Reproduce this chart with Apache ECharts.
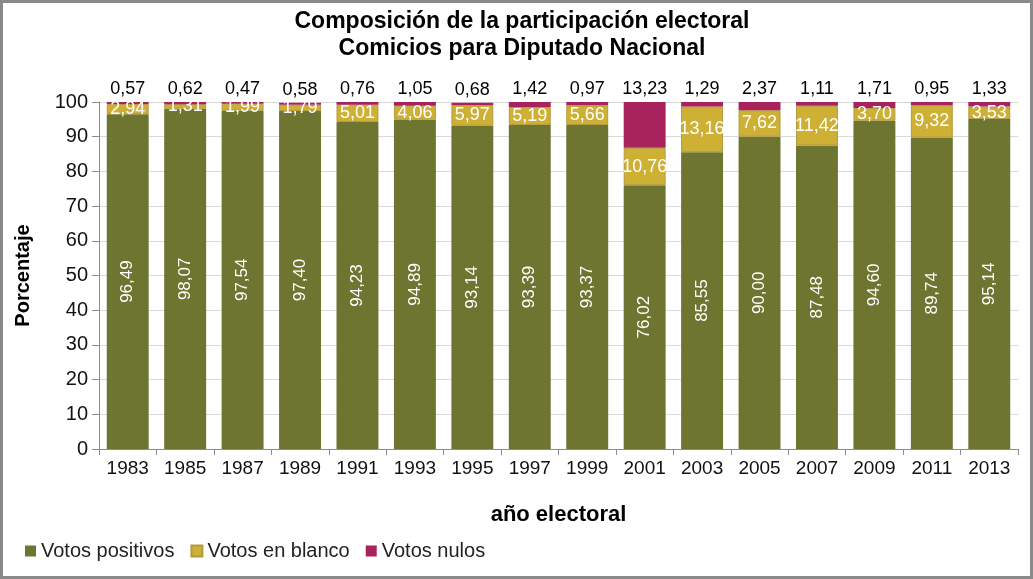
<!DOCTYPE html>
<html>
<head>
<meta charset="utf-8">
<script src="https://cdn.jsdelivr.net/npm/echarts@6/dist/echarts.min.js"></script>
<style>
html,body{margin:0;padding:0;background:#fff;}
#chart{width:1033px;height:579px;}
</style>
</head>
<body>
<div id="chart"></div>
<script>
// datos: composición de la participación electoral
var anios = ['1983','1985','1987','1989','1991','1993','1995','1997','1999','2001','2003','2005','2007','2009','2011','2013'];
var positivos = [96.49, 98.07, 97.54, 97.40, 94.23, 94.89, 93.14, 93.39, 93.37, 76.02, 85.55, 90.00, 87.48, 94.60, 89.74, 95.14];
var blanco = [2.94, 1.31, 1.99, 1.79, 5.01, 4.06, 5.97, 5.19, 5.66, 10.76, 13.16, 7.62, 11.42, 3.70, 9.32, 3.53];
var nulos = [0.57, 0.62, 0.47, 0.58, 0.76, 1.05, 0.68, 1.42, 0.97, 13.23, 1.29, 2.37, 1.11, 1.71, 0.95, 1.33];

var fuente = 'Liberation Sans, Arial, sans-serif';

function coma(p) {
    return p.value.toFixed(2).replace('.', ',');
}

var myChart = echarts.init(document.getElementById('chart'));
var option = {
    animation: false,
    color: ['#6e7531', '#cdb034', '#a8225c'],
    textStyle: { fontFamily: fuente },
    title: {
        text: 'Composición de la participación electoral\nComicios para Diputado Nacional',
        left: 517,
        textAlign: 'center',
        top: 3,
        textStyle: { fontSize: 23, fontWeight: 'bold', color: '#000', lineHeight: 27, fontFamily: fuente }
    },
    legend: {
        left: 20,
        top: 536,
        itemWidth: 11,
        itemHeight: 11,
        itemGap: 16,
        icon: 'rect',
        textStyle: { fontSize: 20, color: '#222' },
        data: ['Votos positivos', 'Votos en blanco', 'Votos nulos']
    },
    grid: { left: 99, right: 15, top: 102, bottom: 130 },
    xAxis: {
        type: 'category',
        data: anios,
        name: 'año electoral',
        nameLocation: 'middle',
        nameGap: 55,
        nameTextStyle: { fontSize: 22, fontWeight: 'bold', color: '#000' },
        axisLine: { lineStyle: { color: '#8c8c8c' } },
        axisTick: { show: true, length: 6, lineStyle: { color: '#8c8c8c' } },
        axisLabel: { fontSize: 19, color: '#111', margin: 10 }
    },
    yAxis: {
        type: 'value',
        min: 0,
        max: 100,
        interval: 10,
        name: 'Porcentaje',
        nameLocation: 'middle',
        nameGap: 66,
        nameTextStyle: { fontSize: 20, fontWeight: 'bold', color: '#000' },
        axisLine: { show: true, lineStyle: { color: '#8c8c8c' } },
        axisTick: { show: true, length: 7, lineStyle: { color: '#8c8c8c' } },
        axisLabel: { fontSize: 20, color: '#111', margin: 11 },
        splitLine: { lineStyle: { color: '#d9d9d9' } }
    },
    series: [
        {
            name: 'Votos positivos',
            type: 'bar',
            stack: 'total',
            barWidth: '73%',
            data: positivos,
            label: {
                show: true,
                position: 'inside',
                rotate: 90,
                color: '#fff',
                fontSize: 17,
                formatter: coma
            }
        },
        {
            name: 'Votos en blanco',
            type: 'bar',
            stack: 'total',
            data: blanco,
            itemStyle: { borderColor: '#b49a3e', borderWidth: 1 },
            label: {
                show: true,
                position: 'inside',
                color: '#fff',
                fontSize: 18,
                formatter: coma
            }
        },
        {
            name: 'Votos nulos',
            type: 'bar',
            stack: 'total',
            data: nulos,
            label: {
                show: true,
                position: 'top',
                distance: 4,
                color: '#000',
                fontSize: 18,
                formatter: coma
            }
        }
    ],
    graphic: [
        {
            type: 'rect',
            shape: { x: 1.5, y: 1.5, width: 1030, height: 576 },
            style: { fill: 'none', stroke: '#8a8a8a', lineWidth: 3 }
        }
    ]
};
myChart.setOption(option);
</script>
</body>
</html>
